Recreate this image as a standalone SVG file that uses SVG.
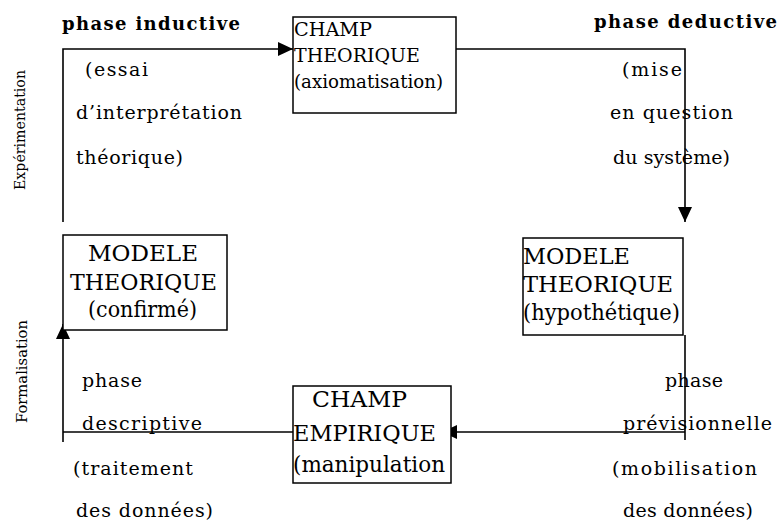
<svg xmlns="http://www.w3.org/2000/svg" width="779" height="527" viewBox="0 0 779 527">
<style>
text{font-family:"DejaVu Serif","Liberation Serif",serif;fill:#000}
.lab{font-size:19px}
.box{font-size:22px}
.boxs{font-size:19px}
.head{font-size:18px;font-weight:bold}
.side{font-size:15px}
.node rect{fill:#fff;stroke:#000;stroke-width:1.5}
.conn{fill:none;stroke:#000;stroke-width:1.6}
</style>
<defs>
<marker id="arr" markerUnits="userSpaceOnUse" markerWidth="16" markerHeight="14" refX="15" refY="7" orient="auto">
<path d="M0,0 L15,7 L0,14 z" fill="#000"/>
</marker>
</defs>
<rect width="779" height="527" fill="#fff"/>

<g id="connectors" class="conn">
<path d="M63,222 V49 H293" marker-end="url(#arr)"/>
<path d="M456,49 H685 V222" marker-end="url(#arr)"/>
<path d="M685,335 V440"/>
<path d="M685,432 H442" marker-end="url(#arr)"/>
<path d="M293,432 H63"/>
<path d="M63,442 V324" marker-end="url(#arr)"/>
</g>

<g id="champ-theorique" class="node">
<rect x="293" y="17" width="163" height="96"/>
<text class="boxs" x="294" y="36" textLength="78" lengthAdjust="spacingAndGlyphs">CHAMP</text>
<text class="boxs" x="294" y="62" textLength="126" lengthAdjust="spacingAndGlyphs">THEORIQUE</text>
<text class="boxs" x="294" y="88" textLength="149" lengthAdjust="spacingAndGlyphs">(axiomatisation)</text>
</g>

<g id="modele-confirme" class="node">
<rect x="63" y="235" width="164" height="95"/>
<text class="box" x="88" y="261" textLength="110" lengthAdjust="spacingAndGlyphs">MODELE</text>
<text class="box" x="70" y="290" textLength="147" lengthAdjust="spacingAndGlyphs">THEORIQUE</text>
<text class="box" x="88" y="317" textLength="109" lengthAdjust="spacingAndGlyphs">(confirmé)</text>
</g>

<g id="modele-hypothetique" class="node">
<rect x="523" y="238" width="160" height="97"/>
<text class="box" x="523" y="264" textLength="107" lengthAdjust="spacingAndGlyphs">MODELE</text>
<text class="box" x="523" y="292" textLength="150" lengthAdjust="spacingAndGlyphs">THEORIQUE</text>
<text class="box" x="523" y="320" textLength="157" lengthAdjust="spacingAndGlyphs">(hypothétique)</text>
</g>

<g id="champ-empirique" class="node">
<rect x="293" y="386" width="158" height="97"/>
<text class="box" x="312" y="407" textLength="95" lengthAdjust="spacingAndGlyphs">CHAMP</text>
<text class="box" x="293" y="441" textLength="143" lengthAdjust="spacingAndGlyphs">EMPIRIQUE</text>
<text class="box" x="293" y="472" textLength="152" lengthAdjust="spacingAndGlyphs">(manipulation</text>
</g>

<g id="phase-inductive">
<text class="head" x="62" y="30" textLength="178" lengthAdjust="spacing">phase inductive</text>
<text class="lab" x="85" y="76" textLength="63" lengthAdjust="spacing">(essai</text>
<text class="lab" x="76" y="119" textLength="166" lengthAdjust="spacing">d’interprétation</text>
<text class="lab" x="76" y="164" textLength="107" lengthAdjust="spacing">théorique)</text>
</g>

<g id="phase-deductive">
<text class="head" x="594" y="28" textLength="183" lengthAdjust="spacing">phase deductive</text>
<text class="lab" x="622" y="76" textLength="60" lengthAdjust="spacing">(mise</text>
<text class="lab" x="610" y="119" textLength="123" lengthAdjust="spacing">en question</text>
<text class="lab" x="613" y="164" textLength="117" lengthAdjust="spacing">du système)</text>
</g>

<g id="phase-descriptive">
<text class="lab" x="82" y="387" textLength="60" lengthAdjust="spacing">phase</text>
<text class="lab" x="82" y="430" textLength="120" lengthAdjust="spacing">descriptive</text>
<text class="lab" x="73" y="475" textLength="120" lengthAdjust="spacing">(traitement</text>
<text class="lab" x="76" y="517" textLength="137" lengthAdjust="spacing">des données)</text>
</g>

<g id="phase-previsionnelle">
<text class="lab" x="665" y="387" textLength="58" lengthAdjust="spacing">phase</text>
<text class="lab" x="623" y="430" textLength="149" lengthAdjust="spacing">prévisionnelle</text>
<text class="lab" x="612" y="475" textLength="145" lengthAdjust="spacing">(mobilisation</text>
<text class="lab" x="623" y="517" textLength="130" lengthAdjust="spacing">des données)</text>
</g>

<g id="axis-labels">
<text class="side" transform="translate(25,190) rotate(-90)" textLength="120" lengthAdjust="spacingAndGlyphs">Expérimentation</text>
<text class="side" transform="translate(27,423) rotate(-90)" textLength="103" lengthAdjust="spacingAndGlyphs">Formalisation</text>
</g>
</svg>
